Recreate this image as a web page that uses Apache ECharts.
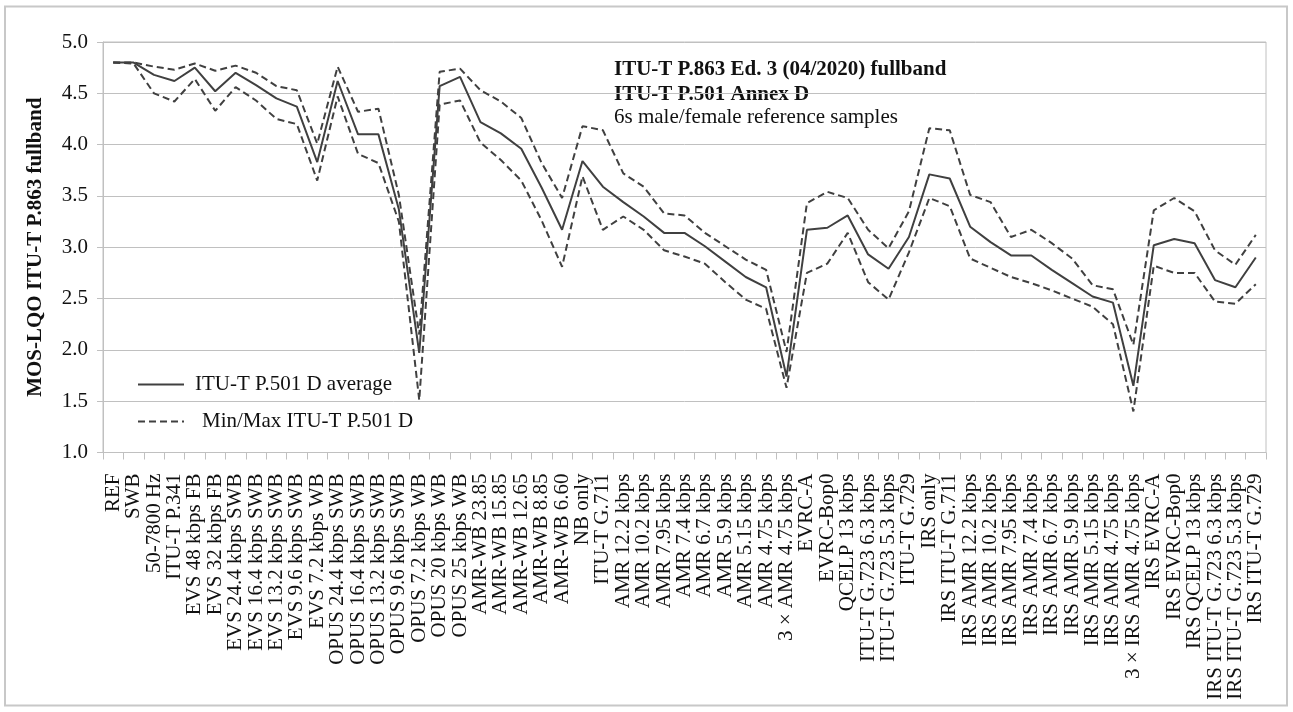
<!DOCTYPE html>
<html>
<head>
<meta charset="utf-8">
<script src="https://cdn.jsdelivr.net/npm/echarts@6/dist/echarts.min.js"></script>
<style>
html,body{margin:0;padding:0;background:#fff;}
#chart{width:1293px;height:712px;}
</style>
</head>
<body>
<div id="chart"></div>
<script>
const categories = ["REF","SWB","50-7800 Hz","ITU-T P.341","EVS 48 kbps FB","EVS 32 kbps FB","EVS 24.4 kbps SWB","EVS 16.4 kbps SWB","EVS 13.2 kbps SWB","EVS 9.6 kbps SWB","EVS 7.2 kbps WB","OPUS 24.4 kbps SWB","OPUS 16.4 kbps SWB","OPUS 13.2 kbps SWB","OPUS 9.6 kbps SWB","OPUS 7.2 kbps WB","OPUS 20 kbps WB","OPUS 25 kbps WB","AMR-WB 23.85","AMR-WB 15.85","AMR-WB 12.65","AMR-WB 8.85","AMR-WB 6.60","NB only","ITU-T G.711","AMR 12.2 kbps","AMR 10.2 kbps","AMR 7.95 kbps","AMR 7.4 kbps","AMR 6.7 kbps","AMR 5.9 kbps","AMR 5.15 kbps","AMR 4.75 kbps","3 × AMR 4.75 kbps","EVRC-A","EVRC-Bop0","QCELP 13 kbps","ITU-T G.723 6.3 kbps","ITU-T G.723 5.3 kbps","ITU-T G.729","IRS only","IRS ITU-T G.711","IRS AMR 12.2 kbps","IRS AMR 10.2 kbps","IRS AMR 7.95 kbps","IRS AMR 7.4 kbps","IRS AMR 6.7 kbps","IRS AMR 5.9 kbps","IRS AMR 5.15 kbps","IRS AMR 4.75 kbps","3 × IRS AMR 4.75 kbps","IRS EVRC-A","IRS EVRC-Bop0","IRS QCELP 13 kbps","IRS ITU-T G.723 6.3 kbps","IRS ITU-T G.723 5.3 kbps","IRS ITU-T G.729"];

const avgValues = [4.80,4.80,4.68,4.62,4.75,4.52,4.70,4.58,4.45,4.37,3.83,4.62,4.10,4.10,3.37,1.97,4.57,4.66,4.22,4.11,3.96,3.58,3.17,3.84,3.59,3.44,3.30,3.14,3.14,3.01,2.86,2.71,2.61,1.74,3.17,3.19,3.31,2.93,2.79,3.10,3.71,3.67,3.20,3.05,2.92,2.92,2.78,2.65,2.52,2.46,1.65,3.02,3.08,3.04,2.68,2.61,2.90];

const maxValues = [4.80,4.80,4.76,4.73,4.79,4.72,4.77,4.70,4.57,4.53,4.01,4.76,4.32,4.35,3.51,2.15,4.71,4.74,4.53,4.42,4.26,3.82,3.48,4.18,4.14,3.72,3.59,3.33,3.31,3.14,3.01,2.88,2.78,1.98,3.43,3.54,3.48,3.17,2.99,3.35,4.16,4.14,3.51,3.44,3.10,3.17,3.04,2.89,2.63,2.59,2.05,3.36,3.48,3.35,2.97,2.83,3.12];

const minValues = [4.80,4.79,4.50,4.42,4.64,4.33,4.56,4.43,4.25,4.20,3.65,4.47,3.91,3.82,3.25,1.51,4.39,4.43,4.02,3.85,3.65,3.26,2.81,3.69,3.17,3.30,3.17,2.97,2.91,2.84,2.66,2.49,2.40,1.63,2.75,2.84,3.14,2.66,2.49,2.95,3.48,3.40,2.89,2.80,2.71,2.65,2.58,2.50,2.42,2.25,1.40,2.82,2.75,2.75,2.47,2.45,2.64];

const annotationLines = ["ITU-T P.863 Ed. 3 (04/2020) fullband","ITU-T P.501 Annex D","6s male/female reference samples"];

const FONT = "'Liberation Serif', 'Times New Roman', serif";
const LINE = '#404040';
const GRIDC = '#c0c0c0';

const chart = echarts.init(document.getElementById('chart'), null, {renderer:'canvas'});
chart.setOption({
  animation:false,
  backgroundColor:'#ffffff',
  textStyle:{fontFamily:FONT},
  grid:{left:103, right:27, top:42, bottom:259.5, containLabel:false, show:true, borderColor:GRIDC, borderWidth:1},
  legend:[
    {data:['ITU-T P.501 D average'], orient:'vertical', left:137, top:374, padding:0, itemWidth:46, itemHeight:14, itemGap:0,
     itemStyle:{opacity:0},
     textStyle:{fontFamily:FONT, fontSize:21, color:'#111', padding:[0,0,0,6]}, selectedMode:false},
    {data:['Min/Max ITU-T P.501 D'], orient:'vertical', left:137, top:411, padding:0, itemWidth:46, itemHeight:14, itemGap:0,
     itemStyle:{opacity:0},
     textStyle:{fontFamily:FONT, fontSize:21, color:'#111', padding:[0,0,0,13]}, selectedMode:false}
  ],
  xAxis:{
    type:'category', data:categories, boundaryGap:true,
    axisLine:{show:true, lineStyle:{color:GRIDC, width:1}},
    axisTick:{show:true, length:7, interval:0, lineStyle:{color:GRIDC, width:1}},
    axisLabel:{interval:0, rotate:90, margin:21, fontFamily:FONT, fontSize:21, color:'#111'},
    splitLine:{show:false}
  },
  yAxis:{
    type:'value', min:1, max:5, interval:0.5,
    name:'MOS-LQO ITU-T P.863 fullband', nameLocation:'middle', nameGap:57,
    nameTextStyle:{fontFamily:FONT, fontSize:21, fontWeight:'bold', color:'#111'},
    axisLine:{show:true, lineStyle:{color:GRIDC, width:1}},
    axisTick:{show:true, length:6, lineStyle:{color:GRIDC, width:1}},
    axisLabel:{margin:15, fontFamily:FONT, fontSize:21, color:'#111', formatter:v=>v.toFixed(1)},
    splitLine:{show:true, lineStyle:{color:GRIDC, width:1}}
  },
  graphic:[
    {type:'rect', shape:{x:5, y:6.5, width:1282, height:699}, style:{fill:'none', stroke:'#c8c8c8', lineWidth:2}, silent:true, z:-1},
    {type:'text', left:614, top:59, style:{text:annotationLines[0], font:"bold 21px 'Liberation Serif'", fill:'#111'}},
    {type:'text', left:614, top:84, style:{text:annotationLines[1], font:"bold 21px 'Liberation Serif'", fill:'#111'}},
    {type:'text', left:614, top:107, style:{text:annotationLines[2], font:"21px 'Liberation Serif'", fill:'#111'}}
  ],
  series:[
    {name:'Min/Max ITU-T P.501 D', type:'line', data:maxValues, showSymbol:false, symbol:'none',
     lineStyle:{color:LINE, width:2, type:[7,4]}, itemStyle:{color:LINE}, z:3},
    {name:'Min/Max ITU-T P.501 D', type:'line', data:minValues, showSymbol:false, symbol:'none',
     lineStyle:{color:LINE, width:2, type:[7,4]}, itemStyle:{color:LINE}, z:3},
    {name:'ITU-T P.501 D average', type:'line', data:avgValues, showSymbol:false, symbol:'none',
     lineStyle:{color:LINE, width:2, type:'solid'}, itemStyle:{color:LINE}, z:4}
  ]
});
</script>
</body>
</html>
